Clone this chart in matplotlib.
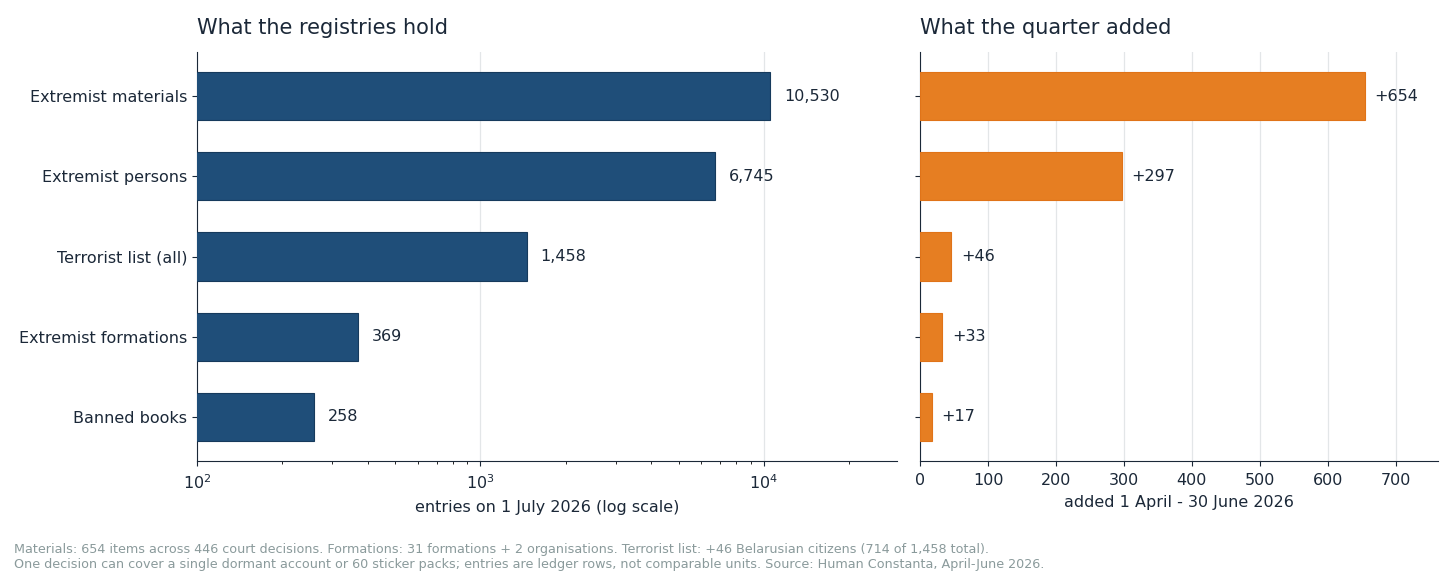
import matplotlib
matplotlib.use("Agg")
import matplotlib.pyplot as plt

categories = ["Extremist materials", "Extremist persons", "Terrorist list (all)",
              "Extremist formations", "Banned books"]
totals = [10530, 6745, 1458, 369, 258]
added = [654, 297, 46, 33, 17]

text_col = "#1b2838"
navy = "#1f4e79"
orange = "#e67e22"

fig = plt.figure(figsize=(14.56, 5.78), dpi=100)
ax1 = fig.add_axes([0.1353, 0.2024, 0.4808, 0.7076])
ax2 = fig.add_axes([0.6319, 0.2024, 0.3557, 0.7076])

ypos = list(range(len(categories)))

ax1.barh(ypos, totals, height=0.6, color=navy, edgecolor="#163a5c", linewidth=0.8, zorder=3)
ax1.set_xscale("log")
ax1.set_xlim(100, 29500)
for y, v in zip(ypos, totals):
    ax1.annotate(f"{v:,}", (v, y), xytext=(10, 0), textcoords="offset points",
                 va="center", ha="left", fontsize=11.5, color=text_col)
ax1.set_yticks(ypos)
ax1.set_yticklabels(categories)
ax1.set_xlabel("entries on 1 July 2026 (log scale)", fontsize=11.5, color=text_col, labelpad=6)
ax1.set_title("What the registries hold", loc="left", fontsize=15, color=text_col, pad=13)

ax2.barh(ypos, added, height=0.6, color=orange, edgecolor="#e07318", linewidth=0.8, zorder=3)
ax2.set_xlim(0, 762)
ax2.set_xticks(range(0, 701, 100))
for y, v in zip(ypos, added):
    ax2.annotate(f"+{v}", (v, y), xytext=(7, 0), textcoords="offset points",
                 va="center", ha="left", fontsize=11.5, color=text_col)
ax2.set_yticks(ypos)
ax2.set_yticklabels([])
ax2.set_xlabel("added 1 April - 30 June 2026", fontsize=11.5, color=text_col, labelpad=5)
ax2.set_title("What the quarter added", loc="left", fontsize=15, color=text_col, pad=13)

for ax in (ax1, ax2):
    ax.set_ylim(4.55, -0.55)
    ax.spines["top"].set_visible(False)
    ax.spines["right"].set_visible(False)
    ax.spines["left"].set_color(text_col)
    ax.spines["bottom"].set_color(text_col)
    ax.tick_params(colors=text_col, labelsize=11.5)
    ax.tick_params(axis="x", pad=5)
    ax.grid(axis="x", which="major", color="#e3e6e8", linewidth=0.9, zorder=0)
    ax.set_axisbelow(True)

fig.text(0.0096, 0.012,
         "Materials: 654 items across 446 court decisions. Formations: 31 formations + 2 organisations. "
         "Terrorist list: +46 Belarusian citizens (714 of 1,458 total).\n"
         "One decision can cover a single dormant account or 60 sticker packs; entries are ledger rows, "
         "not comparable units. Source: Human Constanta, April-June 2026.",
         fontsize=9.2, color="#8a9a9b", ha="left", va="bottom", linespacing=1.25)

fig.savefig("out.png", dpi=100)
